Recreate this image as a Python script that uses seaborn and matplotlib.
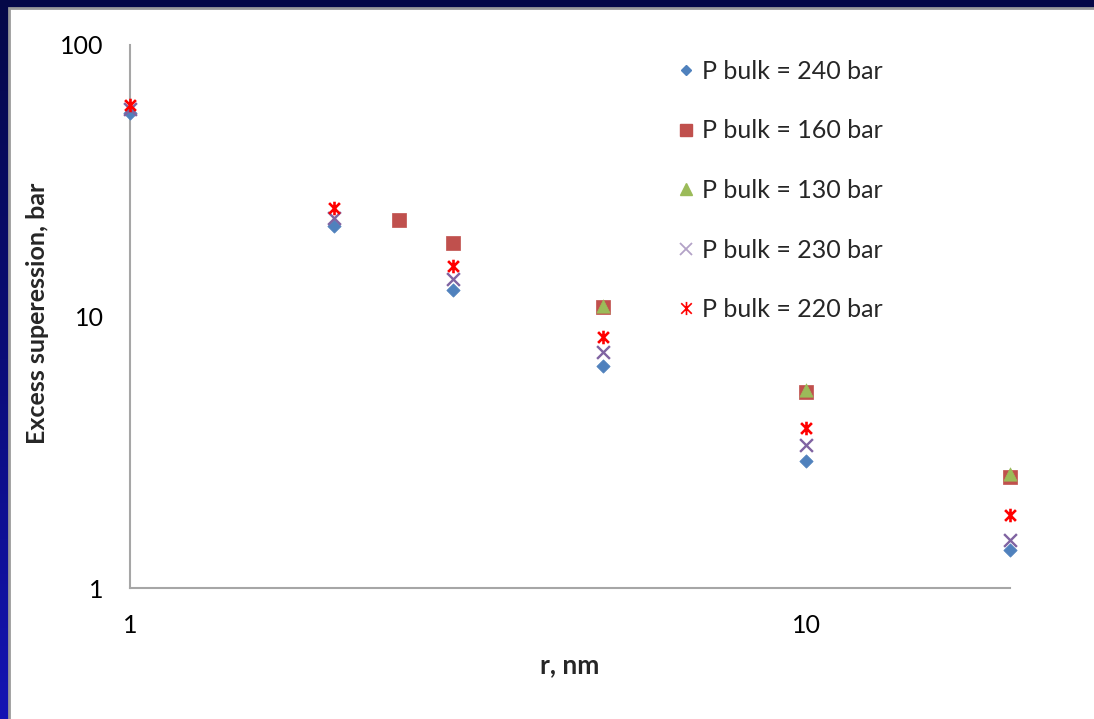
import numpy as np
import matplotlib
matplotlib.use("Agg")
import matplotlib.pyplot as plt
from matplotlib.path import Path
from matplotlib.lines import Line2D
from matplotlib.patches import Rectangle
from matplotlib.colors import LinearSegmentedColormap
import seaborn as sns

# Excess supersaturation pressure vs. pore radius for several bulk pressures
r_240 = [1, 2, 3, 5, 10, 20]
p_240 = [56.2, 21.5, 12.5, 6.57, 2.94, 1.38]

r_160 = [2.5, 3, 5, 10, 20]
p_160 = [22.7, 18.7, 10.8, 5.28, 2.57]

r_130 = [5, 10, 20]
p_130 = [10.9, 5.34, 2.62]

r_230 = [1, 2, 3, 5, 10, 20]
p_230 = [58.1, 23.0, 13.8, 7.42, 3.36, 1.50]

r_220 = [1, 2, 3, 5, 10, 20]
p_220 = [59.9, 25.0, 15.35, 8.43, 3.89, 1.86]

labels = ["P bulk = 240 bar", "P bulk = 160 bar", "P bulk = 130 bar",
          "P bulk = 230 bar", "P bulk = 220 bar"]

x_ticks = [1, 10]
x_ticklabels = ["1", "10"]
y_ticks = [1, 10, 100]
y_ticklabels = ["1", "10", "100"]

sns.set_theme(style="white")
plt.rcParams["font.family"] = ["Lato", "DejaVu Sans"]

W, H = 1094, 719
fig = plt.figure(figsize=(W / 100, H / 100), dpi=100)

# slide-style background: navy with a brighter blue toward the lower left
bg = fig.add_axes([0, 0, 1, 1], zorder=-10)
bg.set_axis_off()
grad = np.linspace(0, 1, 256).reshape(-1, 1)
cmap = LinearSegmentedColormap.from_list("slide", ["#050848", "#0a0c78", "#1414b4"])
bg.imshow(grad, aspect="auto", cmap=cmap, extent=[0, 1, 1, 0])
bg.set_xlim(0, 1)
bg.set_ylim(1, 0)
# white chart area with a thin grey frame
x0, y0 = 9 / W, -0.01
panel = Rectangle((x0, y0), 1 - x0 + 0.01, 1 - 8 / H + 0.01, transform=fig.transFigure,
                  facecolor="white", edgecolor="#9a9a9a", linewidth=2, zorder=-5)
fig.patches.append(panel)

ax = fig.add_axes([130 / W, (H - 588) / H, 880 / W, 543 / H])
ax.set_facecolor("none")

star = Path([(-1, -1), (1, 1), (-1, 1), (1, -1), (0, -1.25), (0, 1.25)],
            [Path.MOVETO, Path.LINETO, Path.MOVETO, Path.LINETO, Path.MOVETO, Path.LINETO])

c_blue, c_red, c_green, c_purple, c_star = "#4F81BD", "#C0504D", "#9BBB59", "#8064A2", "#FF0000"

common = dict(ax=ax, clip_on=False)
sns.scatterplot(x=r_240, y=p_240, marker="D", s=46, color=c_blue,
                edgecolor=c_blue, linewidth=0.5, zorder=3, **common)
sns.scatterplot(x=r_160, y=p_160, marker="s", s=92, color=c_red,
                edgecolor=c_red, linewidth=0.5, zorder=3, **common)
sns.scatterplot(x=r_130, y=p_130, marker="^", s=92, color=c_green,
                edgecolor=c_green, linewidth=0.5, zorder=3, **common)
sns.scatterplot(x=r_230, y=p_230, marker="x", s=85, color=c_purple,
                linewidth=1.7, zorder=3, **common)
sns.scatterplot(x=r_220, y=p_220, marker=star, s=95, color=c_star,
                edgecolor=c_star, linewidth=1.9, zorder=4, **common)

ax.set_xscale("log")
ax.set_yscale("log")
ax.set_xlim(1, 20)
ax.set_ylim(1, 100)
ax.set_xticks(x_ticks)
ax.set_xticklabels(x_ticklabels)
ax.set_yticks(y_ticks)
ax.set_yticklabels(y_ticklabels)
ax.minorticks_off()
ax.tick_params(axis="both", length=0, labelsize=18, colors="black")
ax.tick_params(axis="x", pad=19)
ax.tick_params(axis="y", pad=19)

for side in ["top", "right"]:
    ax.spines[side].set_visible(False)
for side in ["left", "bottom"]:
    ax.spines[side].set_color("#a6a6a6")
    ax.spines[side].set_linewidth(1.5)

ax.set_xlabel("r, nm", fontsize=19, fontweight="bold")
ax.set_ylabel("Excess superession, bar", fontsize=18, fontweight="bold")
ax.xaxis.set_label_coords(0.5, (588 - 653) / 543)
ax.yaxis.set_label_coords((49 - 130) / 880, 0.505)

handles = [
    Line2D([], [], linestyle="none", marker="D", markersize=5.0, color=c_blue),
    Line2D([], [], linestyle="none", marker="s", markersize=8.2, color=c_red),
    Line2D([], [], linestyle="none", marker="^", markersize=8.4, color=c_green),
    Line2D([], [], linestyle="none", marker="x", markersize=9, color="#B3A2C7",
           markeredgewidth=1.3),
    Line2D([], [], linestyle="none", marker=star, markersize=9.5, color=c_star,
           markeredgewidth=1.2),
]
ax.legend(handles, labels, loc="upper left", bbox_to_anchor=(667 / W, (H - 50) / H),
          bbox_transform=fig.transFigure, frameon=False, fontsize=18,
          handlelength=0.7, handletextpad=0.3, labelspacing=1.46,
          borderaxespad=0)

fig.savefig("out.png", dpi=100)
